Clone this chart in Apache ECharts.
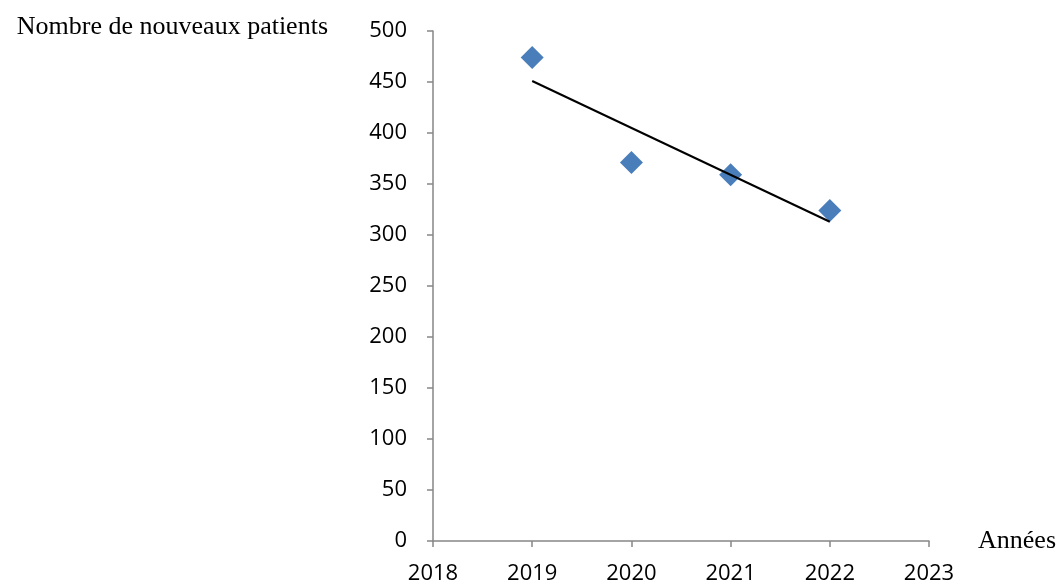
<!DOCTYPE html>
<html>
<head>
<meta charset="utf-8">
<script src="https://cdn.jsdelivr.net/npm/echarts@6/dist/echarts.min.js"></script>
<style>
html,body{margin:0;padding:0;background:#fff;}
#chart{width:1059px;height:585px;}
</style>
</head>
<body>
<div id="chart"></div>
<script>
// Data
const years = [2019, 2020, 2021, 2022];
const patients = [474, 371, 359, 324];
const trendYears = [2019, 2022];
const trendValues = [451, 313];
const xTicks = [2018, 2019, 2020, 2021, 2022, 2023];
const yTicks = [0, 50, 100, 150, 200, 250, 300, 350, 400, 450, 500];
const yAxisTitle = 'Nombre de nouveaux patients';
const xAxisTitle = 'Années';

const chart = echarts.init(document.getElementById('chart'), null, {renderer: 'canvas'});
const axisColor = '#868686';
const labelFont = {fontFamily: 'Open Sans', fontSize: 22, color: '#000'};
const titleFont = {fontFamily: 'Liberation Serif', fontSize: 26, color: '#000'};

chart.setOption({
  animation: false,
  backgroundColor: '#fff',
  grid: {left: 433, right: 129, top: 31, bottom: 44, containLabel: false},
  xAxis: {
    type: 'value',
    min: xTicks[0],
    max: xTicks[xTicks.length - 1],
    interval: 1,
    name: xAxisTitle,
    nameLocation: 'end',
    nameGap: 49,
    nameTextStyle: Object.assign({align: 'left', verticalAlign: 'middle', padding: [0, 0, 6, 0]}, titleFont),
    axisLine: {show: true, lineStyle: {color: axisColor, width: 1.5}},
    axisTick: {show: true, inside: false, length: 6, lineStyle: {color: axisColor, width: 1.5}},
    axisLabel: Object.assign({margin: 22, formatter: v => String(v)}, labelFont),
    splitLine: {show: false}
  },
  yAxis: {
    type: 'value',
    min: yTicks[0],
    max: yTicks[yTicks.length - 1],
    interval: 50,
    name: yAxisTitle,
    nameLocation: 'end',
    nameGap: 4,
    nameTextStyle: Object.assign({align: 'right', verticalAlign: 'middle', padding: [0, 105, 0, 0]}, titleFont),
    axisLine: {show: true, lineStyle: {color: axisColor, width: 1.5}},
    axisTick: {show: true, inside: false, length: 6, lineStyle: {color: axisColor, width: 1.5}},
    axisLabel: Object.assign({margin: 26}, labelFont),
    splitLine: {show: false}
  },
  series: [
    {
      type: 'line',
      data: trendYears.map((y, i) => [y, trendValues[i]]),
      symbol: 'none',
      lineStyle: {color: '#000', width: 2},
      z: 3
    },
    {
      type: 'scatter',
      data: years.map((y, i) => [y, patients[i]]),
      symbol: 'diamond',
      symbolSize: 23,
      itemStyle: {color: '#4a7ebb', opacity: 1},
      z: 2
    }
  ]
});
</script>
</body>
</html>
